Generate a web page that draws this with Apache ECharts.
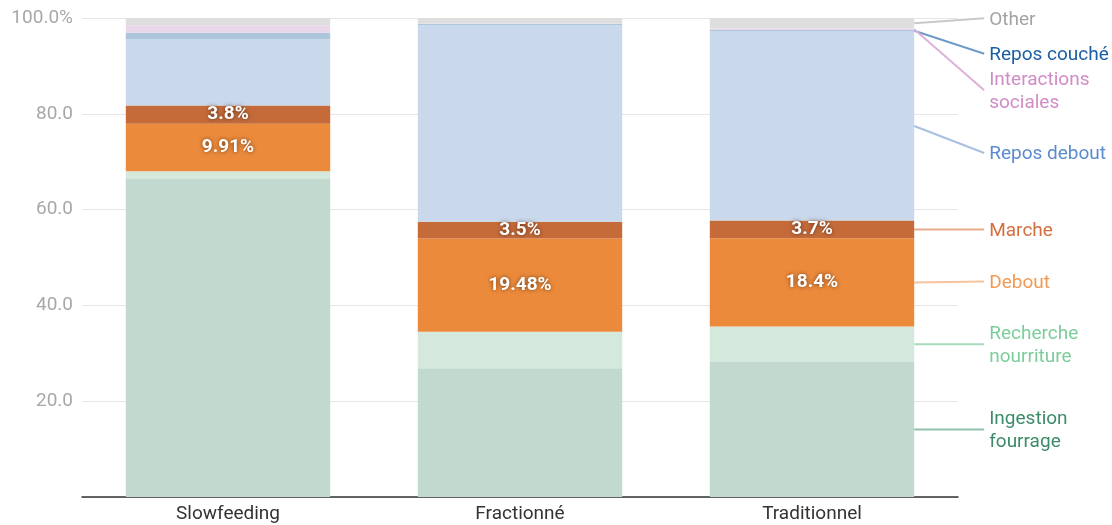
<!DOCTYPE html>
<html>
<head>
<meta charset="utf-8">
<script src="https://cdn.jsdelivr.net/npm/echarts@6/dist/echarts.min.js"></script>
<style>
  html, body { margin: 0; padding: 0; background: #fff; }
  #chart { width: 1112px; height: 525px; }
</style>
</head>
<body>
<div id="chart"></div>
<script>
// Time budget per feeding system (% of observed time), stacked bottom to top
const categories = ['Slowfeeding', 'Fractionné', 'Traditionnel'];
const ingestionFourrage   = [66.4, 26.9, 28.2];
const rechercheNourriture = [1.6, 7.6, 7.4];
const debout              = [9.91, 19.48, 18.4];
const marche              = [3.8, 3.5, 3.7];
const reposDebout         = [13.9, 41.0, 39.5];
const reposCouche         = [1.3, 0.3, 0.3];
const interactions        = [1.6, 0.1, 0.3];
const other               = [1.49, 1.12, 2.2];
const yTicks = [0, 20, 40, 60, 80, 100];

const seriesDefs = [
  { name: 'Ingestion\nfourrage',     data: ingestionFourrage,   color: '#c1d9cf', text: '#3d8b68', line: '#8fc0a9', dy: 0,  values: false },
  { name: 'Recherche\nnourriture',   data: rechercheNourriture, color: '#d4e9dc', text: '#7ccd9a', line: '#a8dbbb', dy: 0,  values: false },
  { name: 'Debout',                  data: debout,              color: '#ec8a3b', text: '#f19a55', line: '#f5c49e', dy: -1, values: true },
  { name: 'Marche',                  data: marche,              color: '#c56b3a', text: '#d36f40', line: '#e8ab8c', dy: 0,  values: true },
  { name: 'Repos debout',            data: reposDebout,         color: '#c9d8ea', text: '#5b8bcf', line: '#a9c0e0', dy: 27, values: false },
  { name: 'Repos couché',            data: reposCouche,         color: '#aec5de', text: '#1d5fa3', line: '#6f9bc9', dy: 23, values: false },
  { name: 'Interactions\nsociales',  data: interactions,        color: '#ead6e9', text: '#d08cc5', line: '#ddb0d8', dy: 61, values: false },
  { name: 'Other',                   data: other,               color: '#dedede', text: '#a3a3a3', line: '#c8c8c8', dy: -5, values: false }
];

const FONT = 'Roboto, "Noto Sans", sans-serif';
const FS = 19;
const chart = echarts.init(document.getElementById('chart'), null, { renderer: 'canvas' });

const series = seriesDefs.map(s => ({
  name: s.name.replace('\n', ' '),
  type: 'bar',
  stack: 'total',
  barWidth: '70%',
  data: s.data,
  itemStyle: { color: s.color },
  emphasis: { disabled: true },
  label: {
    show: s.values,
    position: 'inside',
    formatter: p => p.value + '%',
    color: '#fff',
    fontFamily: FONT,
    fontWeight: 'bold',
    fontSize: FS,
    textShadowColor: 'rgba(0,0,0,0.55)',
    textShadowBlur: 4
  }
}));

chart.setOption({
  animation: false,
  grid: { left: 82, right: 154, top: 18, bottom: 28 },
  xAxis: {
    type: 'category',
    data: categories,
    axisTick: { show: false },
    axisLine: { show: true, lineStyle: { color: '#333', width: 1.5 } },
    axisLabel: { color: '#333', fontFamily: FONT, fontSize: FS, margin: 8 }
  },
  yAxis: {
    type: 'value',
    min: yTicks[0],
    max: yTicks[yTicks.length - 1],
    interval: yTicks[1] - yTicks[0],
    axisLine: { show: false },
    axisTick: { show: false },
    splitLine: { lineStyle: { color: '#e6e6e6', width: 1 } },
    axisLabel: {
      color: '#a8a8a8', fontFamily: FONT, fontSize: FS, margin: 9,
      formatter: v => v === 0 ? '' : (v === 100 ? v.toFixed(1) + '%' : v.toFixed(1))
    }
  },
  series
});

// Side labels with leader lines, anchored on the last column's segments
function drawSideLabels() {
  const last = categories.length - 1;
  const c0 = chart.convertToPixel({ gridIndex: 0 }, [last - 1, 0]);
  const c1 = chart.convertToPixel({ gridIndex: 0 }, [last, 0]);
  const band = c1[0] - c0[0];
  const barRight = c1[0] + band * 0.35;
  const lineEnd = barRight + 70;
  const elements = [];
  let base = 0;
  seriesDefs.forEach(s => {
    const v = s.data[last];
    const mid = chart.convertToPixel({ gridIndex: 0 }, [last, base + v / 2])[1];
    base += v;
    const ly = mid + s.dy;
    elements.push({
      type: 'line',
      silent: true,
      shape: { x1: barRight, y1: mid, x2: lineEnd, y2: ly },
      style: { stroke: s.line, lineWidth: 2 }
    });
    elements.push({
      type: 'text',
      silent: true,
      x: lineEnd + 5,
      y: ly + 1.5,
      style: {
        text: s.name,
        fill: s.text,
        font: FS + 'px ' + FONT,
        lineHeight: 23,
        align: 'left',
        verticalAlign: 'middle'
      }
    });
  });
  chart.setOption({ graphic: { elements } });
}
drawSideLabels();
</script>
</body>
</html>
